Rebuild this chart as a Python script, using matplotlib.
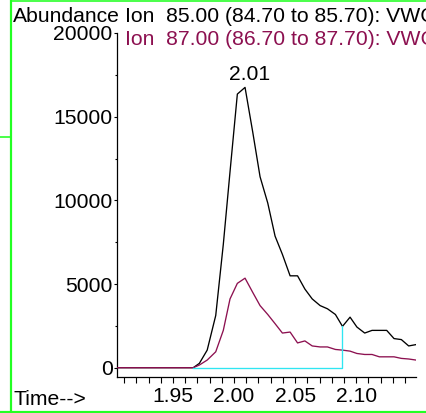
import matplotlib
matplotlib.use("Agg")
import matplotlib.pyplot as plt
from matplotlib.lines import Line2D
from matplotlib.ticker import MultipleLocator, FixedLocator

plt.rcParams['font.family'] = ['Liberation Sans', 'DejaVu Sans']

# ---- data ----
time = [1.904, 1.9666, 1.9716, 1.978, 1.985, 1.9912, 1.9967, 2.0027, 2.009,
        2.0153, 2.0213, 2.0276, 2.0336, 2.0396, 2.0459, 2.052, 2.058, 2.064,
        2.0705, 2.0765, 2.083, 2.0888, 2.095, 2.1006, 2.107, 2.113, 2.119,
        2.125, 2.131, 2.137, 2.143, 2.149]
ion85 = [0, 0, 260, 1050, 3120, 7370, 11710, 16350, 16750, 14080, 11410,
         9840, 7860, 6770, 5490, 5490, 4700, 4110, 3710, 3520, 3180, 2470,
         3020, 2430, 2070, 2230, 2230, 2230, 1740, 1680, 1300, 1380]
ion87 = [0, 0, 160, 456, 950, 2230, 4110, 5040, 5350, 4500, 3710, 3180,
         2630, 2070, 2130, 1480, 1600, 1300, 1240, 1240, 1090, 1050, 990,
         850, 790, 790, 650, 650, 650, 556, 520, 456]
integ_start = 1.9666
integ_end = 2.0888
integ_end_height = 2470
peak_time_label = "2.01"
peak_label_pos = (2.0125, 17190)
header1 = "Ion  85.00 (84.70 to 85.70): VWC"
header2 = "Ion  87.00 (86.70 to 87.70): VWC"
ytick_values = [0, 5000, 10000, 15000, 20000]
xtick_values = [1.95, 2.00, 2.05, 2.10]
xtick_labels = ["1.95", "2.00", "2.05", "2.10"]

W, H = 426, 413
fig = plt.figure(figsize=(W / 100, H / 100), dpi=100)
fig.patch.set_facecolor('white')

# axes placement in pixels
ax_left, ax_right = 116.7, 416.0
ax_top, ax_bottom = 33.0, 376.7
ax = fig.add_axes([ax_left / W, (H - ax_bottom) / H,
                   (ax_right - ax_left) / W, (ax_bottom - ax_top) / H])
ax.set_facecolor('white')

BLACK = '#000000'
RED = '#8c1050'
CYAN = '#2fe6f2'
GREEN = '#22ff22'

ax.plot(time, ion85, color=BLACK, lw=0.95, zorder=3)
ax.plot(time, ion87, color=RED, lw=0.95, zorder=4)
ax.plot([integ_start, integ_end, integ_end], [0, 0, integ_end_height],
        color=CYAN, lw=0.95, zorder=5)

ax.set_xlim(1.9039, 2.149)
ax.set_ylim(-538, 20000)

for s in ['top', 'right']:
    ax.spines[s].set_visible(False)
for s in ['left', 'bottom']:
    ax.spines[s].set_linewidth(0.9)
    ax.spines[s].set_color('black')

FS = 15.2
ax.yaxis.set_major_locator(FixedLocator(ytick_values))
ax.yaxis.set_minor_locator(FixedLocator([2500, 7500, 12500, 17500]))
ax.set_yticklabels([str(v) for v in ytick_values])
ax.tick_params(axis='y', which='major', direction='out', length=2.5, width=0.8,
               pad=0.5, labelsize=FS)
ax.tick_params(axis='y', which='minor', direction='out', length=1.5, width=0.8)

ax.xaxis.set_major_locator(FixedLocator(xtick_values))
ax.set_xticklabels(xtick_labels)
ax.xaxis.set_minor_locator(MultipleLocator(0.01))
ax.tick_params(axis='x', which='both', direction='out', length=4.5, width=0.8)
ax.tick_params(axis='x', which='major', pad=3.0, labelsize=FS)

ax.text(peak_label_pos[0], peak_label_pos[1], peak_time_label, ha='center',
        va='baseline', fontsize=FS, color=BLACK)

# header texts
fig.text(12.5 / W, (H - 21.5) / H, "Abundance", ha='left', va='baseline',
         fontsize=FS, color=BLACK)
fig.text(125 / W, (H - 22.3) / H, header1, ha='left', va='baseline',
         fontsize=FS, color=BLACK)
fig.text(125 / W, (H - 45.3) / H, header2, ha='left', va='baseline',
         fontsize=FS, color=RED)
fig.text(13 / W, (H - 405) / H, "Time-->", ha='left', va='baseline',
         fontsize=FS, color=BLACK)

# green frame lines
def px_line(x0, y0, x1, y1, lw_px):
    fig.add_artist(Line2D([x0 / W, x1 / W], [(H - y0) / H, (H - y1) / H],
                          transform=fig.transFigure, color=GREEN,
                          lw=lw_px * 0.72, solid_capstyle='butt'))

px_line(11.2, 0, 11.2, H, 2.2)
px_line(11.2, 0.8, W, 0.8, 1.6)
px_line(0, 411.8, W, 411.8, 2.2)
px_line(0, 137.3, 11.2, 137.3, 1.6)

fig.savefig("out.png", dpi=100, facecolor='white')
